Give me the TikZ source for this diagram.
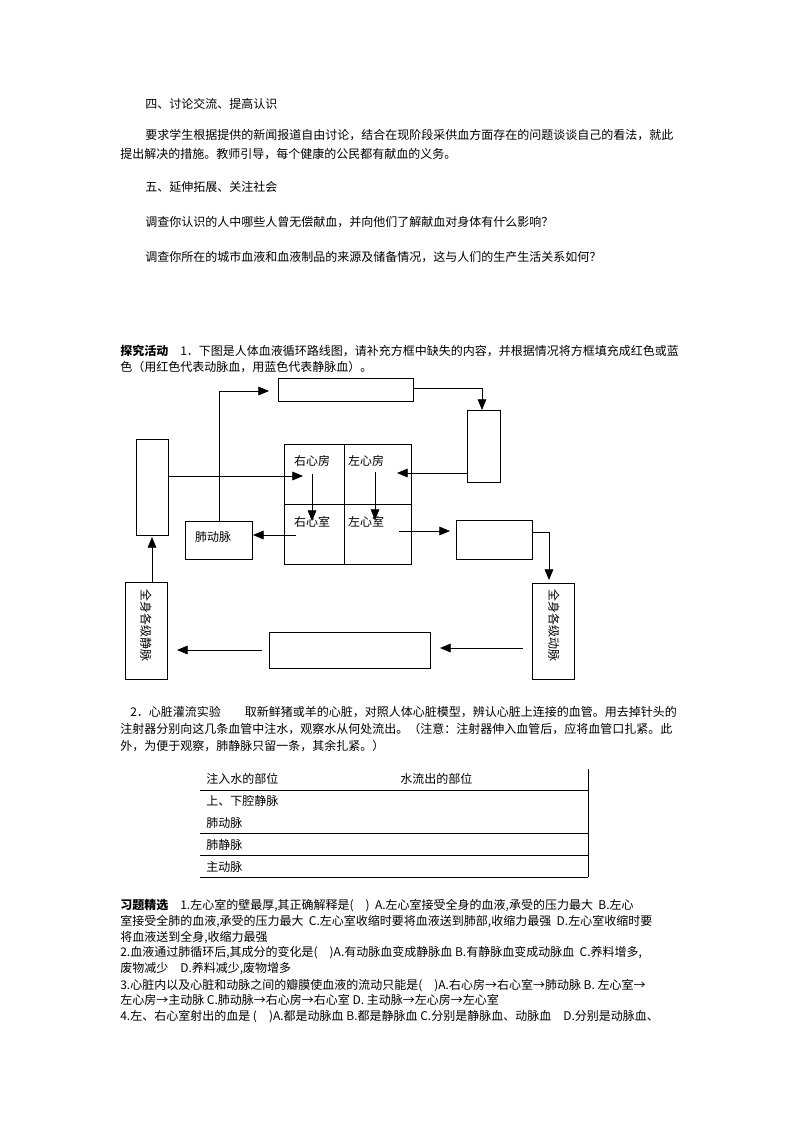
\documentclass[tikz,border=0pt]{standalone}
\usepackage{fontspec}
\setmainfont{Noto Sans CJK SC}
\usetikzlibrary{arrows.meta}
\begin{document}
\begin{tikzpicture}[x=0.75pt,y=-0.75pt,
  tx/.style={anchor=base west,inner sep=0pt,font=\fontsize{9}{11}\selectfont},
  lab/.style={inner sep=0pt,font=\fontsize{9}{11}\selectfont},
  bx/.style={draw,line width=0.6pt},
  ar/.style={line width=0.6pt,-{Triangle[length=8pt,width=6.5pt]}},
  ln/.style={line width=0.6pt}]
\useasboundingbox[fill=white] (0,0) rectangle (793,1122);
% intro text
\node[tx] (t1) at (145,108) {四、讨论交流、提高认识};
\node[tx] (t2) at (145,139) {要求学生根据提供的新闻报道自由讨论，结合在现阶段采供血方面存在的问题谈谈自己的看法，就此};
\node[tx] (t3) at (120,158) {提出解决的措施。教师引导，每个健康的公民都有献血的义务。};
\node[tx] (t4) at (145,191) {五、延伸拓展、关注社会};
\node[tx] (t5) at (145,226) {调查你认识的人中哪些人曾无偿献血，并向他们了解献血对身体有什么影响？};
\node[tx] (t6) at (145,261) {调查你所在的城市血液和血液制品的来源及储备情况，这与人们的生产生活关系如何？};
\node[tx] (t7) at (120,355) {\textbf{探究活动}\quad 1．下图是人体血液循环路线图，请补充方框中缺失的内容，并根据情况将方框填充成红色或蓝};
\node[tx] (t8) at (120,371) {色（用红色代表动脉血，用蓝色代表静脉血）。};
% boxes
\node[bx,minimum width=135pt*0.75,minimum height=23pt*0.75,inner sep=0pt] (top) at (345.5,389.5) {};
\draw[bx] (467,410) rectangle (500,482); \coordinate (rt) at (483.5,446);
\draw[bx] (136,439) rectangle (168,535);
\draw[bx] (284,444) rectangle (411,564);
\draw[ln] (344,444) -- (344,564) (284,504) -- (411,504);
\draw[bx] (185,521) rectangle (252,559);
\draw[bx] (456,520) rectangle (532,559);
\draw[bx] (125,582) rectangle (167,679);
\draw[bx] (532,583) rectangle (574,679);
\draw[bx] (269,632) rectangle (430,668);
% labels
\node[lab] (ra) at (312,461) {右心房};
\node[lab] (la) at (366,461) {左心房};
\node[lab] (rv) at (312,522) {右心室};
\node[lab] (lv) at (366,522) {左心室};
\node[lab] (pa) at (213,537) {肺动脉};
\node[lab,rotate=-90] (sv) at (146,625) {全身各级静脉};
\node[lab,rotate=-90] (sa) at (554,625) {全身各级动脉};
% arrows
\coordinate (a1) at (219,521); \coordinate (a2) at (219,391); \coordinate (a3) at (269,391);
\draw[ar] (a1) -- (a2) -- (a3);
\coordinate (b1) at (413,388); \coordinate (b2) at (482,388); \coordinate (b3) at (482,410);
\draw[ar] (b1) -- (b2) -- (b3);
\coordinate (c1) at (467,473); \coordinate (c2) at (397,473);
\draw[ar] (c1) -- (c2);
\coordinate (d1) at (168,476); \coordinate (d2) at (303,476);
\draw[ar] (d1) -- (d2);
\coordinate (e1) at (312,474); \coordinate (e2) at (312,521);
\draw[ar] (e1) -- (e2);
\coordinate (f1) at (375,472); \coordinate (f2) at (375,520);
\draw[ar] (f1) -- (f2);
\coordinate (g1) at (296,535); \coordinate (g2) at (253,535);
\draw[ar] (g1) -- (g2);
\coordinate (h1) at (399,531); \coordinate (h2) at (450,531);
\draw[ar] (h1) -- (h2);
\coordinate (i1) at (532,532); \coordinate (i2) at (549,532); \coordinate (i3) at (549,580);
\draw[ar] (i1) -- (i2) -- (i3);
\coordinate (j1) at (523,648); \coordinate (j2) at (440,648);
\draw[ar] (j1) -- (j2);
\coordinate (k1) at (262,650); \coordinate (k2) at (177,650);
\draw[ar] (k1) -- (k2);
\coordinate (l1) at (152,582); \coordinate (l2) at (152,537);
\draw[ar] (l1) -- (l2);
% section 2
\node[tx] (s1) at (130,716) {2．心脏灌流实验\quad\quad 取新鲜猪或羊的心脏，对照人体心脏模型，辨认心脏上连接的血管。用去掉针头的};
\node[tx] (s2) at (120,733) {注射器分别向这几条血管中注水，观察水从何处流出。（注意：注射器伸入血管后，应将血管口扎紧。此};
\node[tx] (s3) at (120,750) {外，为便于观察，肺静脉只留一条，其余扎紧。）};
% table
\draw[ln] (588,769) -- (588,877);
\draw[ln] (200,790) -- (588,790) (200,833) -- (588,833) (200,855) -- (588,855) (200,877) -- (588,877);
\node[tx] (h1) at (206,783) {注入水的部位};
\node[tx] (h2) at (400,783) {水流出的部位};
\node[tx] (r1) at (206,805) {上、下腔静脉};
\node[tx] (r2) at (206,827) {肺动脉};
\node[tx] (r3) at (206,849) {肺静脉};
\node[tx] (r4) at (206,871) {主动脉};
% questions
\node[tx] (q1) at (120,909) {\textbf{习题精选}\quad 1.左心室的壁最厚,其正确解释是(\quad)\ \ A.左心室接受全身的血液,承受的压力最大\ \ B.左心};
\node[tx] (q2) at (120,925) {室接受全肺的血液,承受的压力最大\ \ C.左心室收缩时要将血液送到肺部,收缩力最强\ \ D.左心室收缩时要};
\node[tx] (q3) at (120,941) {将血液送到全身,收缩力最强};
\node[tx] (q4) at (120,956) {2.血液通过肺循环后,其成分的变化是(\quad)A.有动脉血变成静脉血 B.有静脉血变成动脉血\ \ C.养料增多,};
\node[tx] (q5) at (120,972) {废物减少\quad D.养料减少,废物增多};
\node[tx] (q6) at (120,989) {3.心脏内以及心脏和动脉之间的瓣膜使血液的流动只能是(\quad)A.右心房→右心室→肺动脉 B.\ 左心室→};
\node[tx] (q7) at (120,1004) {左心房→主动脉 C.肺动脉→右心房→右心室 D.\ 主动脉→左心房→左心室};
\node[tx] (q8) at (120,1020) {4.左、右心室射出的血是 (\quad)A.都是动脉血 B.都是静脉血 C.分别是静脉血、动脉血\quad D.分别是动脉血、};
\end{tikzpicture}
\end{document}
